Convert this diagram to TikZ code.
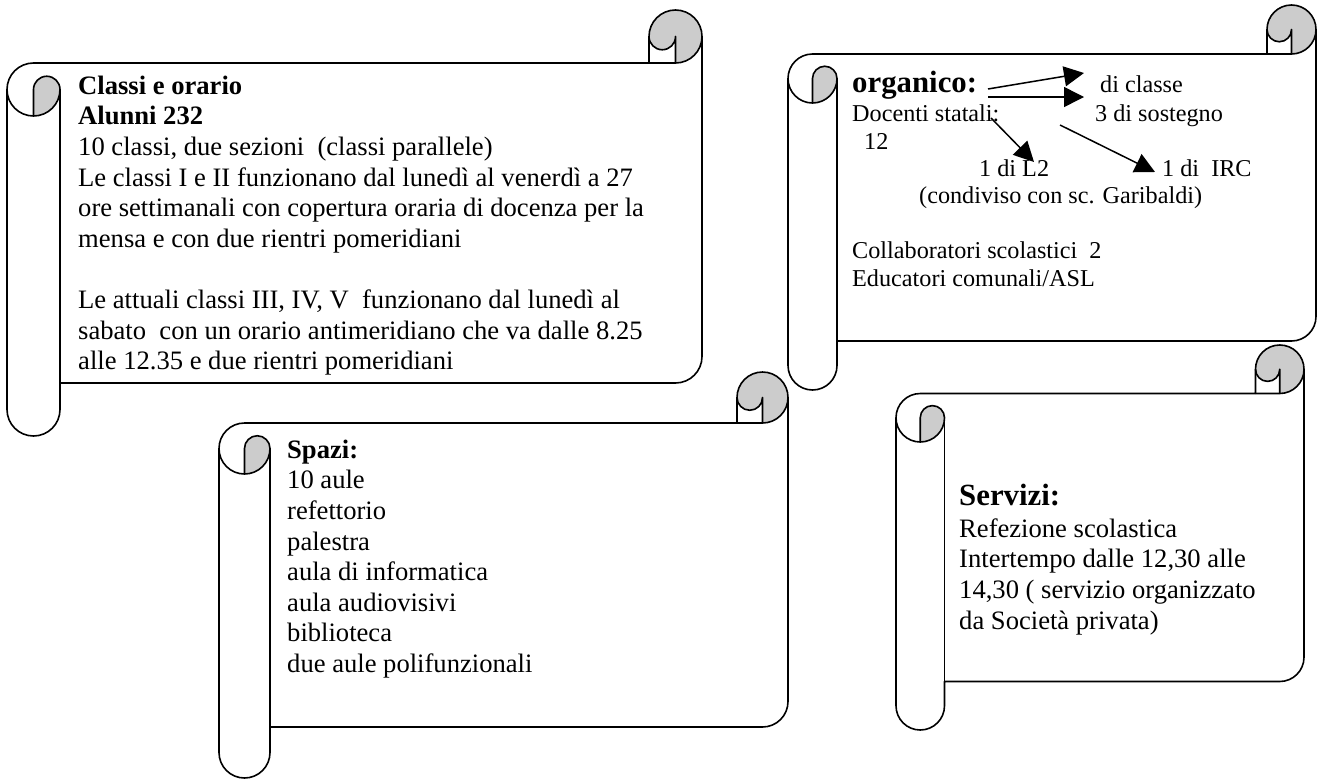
\documentclass[tikz,border=0pt]{standalone}
\usepackage{fontspec}
\setmainfont{Liberation Serif}
\usetikzlibrary{arrows.meta}
\definecolor{rollgray}{RGB}{204,204,204}
\tikzset{
  scrollline/.style={line width=1.6pt, line join=round},
  body/.style={anchor=north west, inner sep=0pt, align=left, font=\fontsize{26.6}{30.6}\selectfont},
  bodyline/.style={anchor=base west, inner sep=0pt, font=\fontsize{26.6}{30.6}\selectfont},
  small/.style={anchor=north west, inner sep=0pt, align=left, font=\fontsize{24.2}{27.8}\selectfont},
  smallline/.style={anchor=base west, inner sep=0pt, font=\fontsize{24.2}{27.8}\selectfont},
  head/.style={anchor=base west, inner sep=0pt, font=\fontsize{30.8}{35}\selectfont\bfseries},
  ptr/.style={line width=1.5pt, -{Triangle[length=20pt, width=20pt]}},
}
% horizontal scroll: left, top, right, bottom (image px, y down), roll size
\newcommand{\drawscroll}[5]{%
  \pgfmathsetmacro{\scL}{#1}\pgfmathsetmacro{\scR}{#3}%
  \pgfmathsetmacro{\scH}{#5/2}\pgfmathsetmacro{\scQ}{#5/4}%
  \pgfmathsetmacro{\scYa}{-(#2+#5/2)}\pgfmathsetmacro{\scYb}{-(#2+#5)}%
  \pgfmathsetmacro{\scYc}{-(#2+1.5*#5)}\pgfmathsetmacro{\scYd}{-(#2+2*#5)}%
  \pgfmathsetmacro{\scYe}{-(#4-1.5*#5)}\pgfmathsetmacro{\scYf}{-(#4-#5)}%
  \pgfmathsetmacro{\scYg}{-(#4-#5/2)}%
  \pgfmathsetmacro{\scXa}{#1+#5/2}\pgfmathsetmacro{\scXb}{#1+#5}%
  \pgfmathsetmacro{\scXc}{#3-#5}\pgfmathsetmacro{\scXd}{#3-#5/2}%
  \fill[white] (\scL,\scYc) arc[start angle=180, delta angle=-90, radius=\scH]
    -- (\scXc,\scYb) -- (\scXc,\scYa) arc[start angle=180, delta angle=-180, radius=\scH]
    -- (\scR,\scYe) arc[start angle=0, delta angle=-90, radius=\scH]
    -- (\scXb,\scYf) -- (\scXb,\scYg) arc[start angle=0, delta angle=-180, radius=\scH] -- cycle;
  \fill[rollgray] (\scXa,\scYd) arc[start angle=-90, delta angle=90, radius=\scH]
    arc[start angle=0, delta angle=180, radius=\scQ] -- cycle;
  \fill[rollgray] (\scXd,\scYb) arc[start angle=-90, delta angle=270, radius=\scH]
    arc[start angle=180, delta angle=180, radius=\scQ] -- cycle;
  \draw[scrollline] (\scL,\scYc) arc[start angle=180, delta angle=-90, radius=\scH]
    -- (\scXc,\scYb) -- (\scXc,\scYa) arc[start angle=180, delta angle=-180, radius=\scH]
    -- (\scR,\scYe) arc[start angle=0, delta angle=-90, radius=\scH]
    -- (\scXb,\scYf) -- (\scXb,\scYg) arc[start angle=0, delta angle=-180, radius=\scH] -- cycle;
  \draw[scrollline] (\scXc,\scYb) -- (\scXd,\scYb) arc[start angle=-90, delta angle=90, radius=\scH];
  \draw[scrollline] (\scXd,\scYb) -- (\scXd,\scYa) arc[start angle=0, delta angle=-180, radius=\scQ];
  \draw[scrollline] (\scXa,\scYd) -- (\scXa,\scYc) arc[start angle=180, delta angle=-180, radius=\scQ]
    arc[start angle=0, delta angle=-180, radius=\scH];
  \draw[scrollline] (\scXb,\scYc) -- (\scXb,\scYf);
}
\begin{document}
\begin{tikzpicture}[x=1pt, y=1pt]
\useasboundingbox (0,-779) rectangle (1319,0);
\fill[white] (0,-779) rectangle (1319,0);

% scrolls
\drawscroll{7}{10}{702}{436}{53}
\drawscroll{788}{5}{1316}{390}{49}
\drawscroll{219}{372}{788}{778}{51}
\drawscroll{896}{345}{1304}{730}{48.5}

% Classi e orario
\node[body] (classi) at (78,-72.58) {\strut\textbf{Classi e orario}\\
\textbf{Alunni 232}\\
10 classi, due sezioni~ (classi parallele)\\
Le classi I e II funzionano dal lunedì al venerdì a 27\\
ore settimanali con copertura oraria di docenza per la\\
mensa e con due rientri pomeridiani\\[30.6pt]
Le attuali classi III, IV, V~ funzionano dal lunedì al\\
sabato~ con un orario antimeridiano che va dalle 8.25\\
alle 12.35 e due rientri pomeridiani};

% Spazi
\node[body] (spazi) at (287,-436.58) {\strut\textbf{Spazi:}\\
10 aule\\
refettorio\\
palestra\\
aula di informatica\\
aula audiovisivi\\
biblioteca\\
due aule polifunzionali};

% Servizi
\node[head] (servizihead) at (959,-505) {Servizi:};
\node[body] (servizi) at (959,-515.58) {\strut Refezione scolastica\\
Intertempo dalle 12,30 alle\\
14,30 ( servizio organizzato\\
da Società privata)};

% organico
\node[head] (orghead) at (852,-92) {organico:};
\node[small] (docenti) at (852,-101.54) {\strut Docenti statali:\\
\hspace*{12pt}12};
\node[smallline] (diclasse) at (1100,-92) {di classe};
\node[smallline] (sostegno) at (1095,-121) {3 di sostegno};
\node[smallline] (ldue) at (979,-176) {1 di L2};
\node[smallline] (irc) at (1162,-176) {1 di~ IRC};
\node[smallline] (condiviso) at (919,-203.5) {(condiviso con sc. Garibaldi)};
\node[small] (collab) at (852,-239.04) {\strut Collaboratori scolastici~ 2\\
Educatori comunali/ASL};

% arrows
\coordinate (a1s) at (988,-89);
\coordinate (a1e) at (1084,-73);
\coordinate (a2s) at (988,-97);
\coordinate (a2e) at (1084,-97);
\coordinate (a3s) at (991,-118);
\coordinate (a3e) at (1034,-162);
\coordinate (a4s) at (1060,-125);
\coordinate (a4e) at (1155,-172);
\draw[ptr] (a1s) -- (a1e);
\draw[ptr] (a2s) -- (a2e);
\draw[ptr] (a3s) -- (a3e);
\draw[ptr] (a4s) -- (a4e);
\end{tikzpicture}
\end{document}
